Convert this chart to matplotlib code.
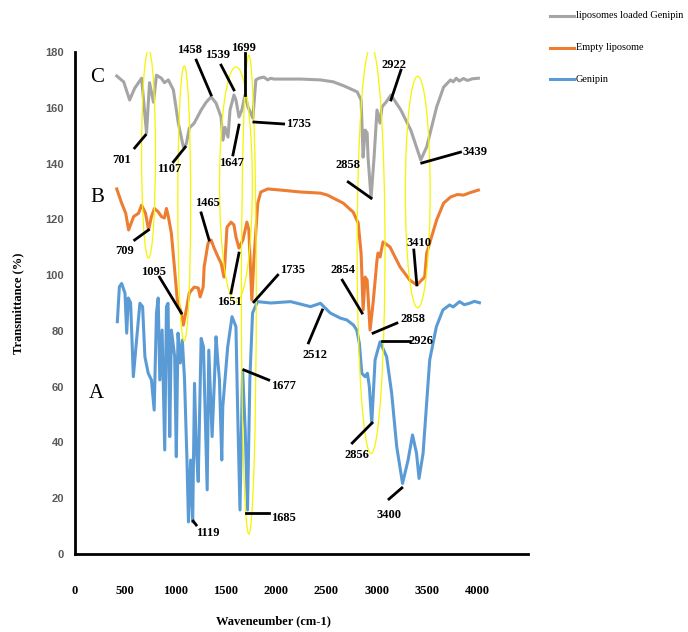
import matplotlib
matplotlib.use("Agg")
import matplotlib.pyplot as plt
from matplotlib.patches import Ellipse
from matplotlib.lines import Line2D

plt.rcParams['font.family'] = ['Liberation Serif', 'DejaVu Serif']

# FTIR spectra (wavenumber cm-1, transmittance %)
loaded_wn = [415, 484, 543, 593, 662, 711, 741, 780, 810, 859, 889, 928, 978, 1027, 1077,
             1106, 1136, 1185, 1254, 1304, 1353, 1402, 1452, 1471, 1491, 1521, 1541, 1580,
             1600, 1630, 1659, 1689, 1719, 1748, 1768, 1798, 1827, 1877, 1916, 1946, 1975,
             2242, 2440, 2568, 2677, 2805, 2844, 2864, 2884, 2904, 2913, 2943, 2973, 3002,
             3032, 3052, 3091, 3141, 3239, 3338, 3437, 3496, 3595, 3664, 3733, 3760, 3790,
             3820, 3862, 3900, 3950, 4010]
loaded_t = [171.4, 169.3, 162.8, 167, 170.6, 151, 169, 162, 171.7, 170.6, 169, 170, 166.4,
            154.5, 146, 147, 152.7, 154.5, 159.2, 162, 163.9, 161.7, 156.7, 148.4, 153, 149.5,
            159.2, 164.6, 162.8, 156.7, 159.2, 164.6, 160.3, 158, 156.3, 170, 170.6, 171, 170,
            170.6, 170.3, 170.3, 170, 169.3, 167.8, 165.7, 162.8, 142.3, 152, 151, 142.3,
            127.6, 142.3, 159.2, 154.5, 160.3, 162, 164.6, 159.2, 152, 141.3, 146, 160.3,
            167.4, 170, 169.3, 170.6, 169.6, 170.5, 169.8, 170.4, 170.6]

empty_wn = [415, 464, 504, 533, 583, 632, 662, 701, 731, 760, 790, 829, 859, 889, 909, 928,
            958, 988, 1017, 1057, 1077, 1106, 1136, 1185, 1225, 1244, 1274, 1284, 1323, 1353,
            1383, 1422, 1452, 1481, 1511, 1551, 1580, 1600, 1630, 1669, 1709, 1728, 1758,
            1778, 1817, 1847, 1916, 2044, 2242, 2440, 2509, 2667, 2765, 2815, 2844, 2864,
            2884, 2904, 2933, 2963, 3002, 3012, 3032, 3062, 3131, 3230, 3328, 3398, 3476,
            3496, 3595, 3664, 3733, 3800, 3862, 3930, 4010]
empty_t = [130.9, 125.8, 122.2, 116.2, 121, 122.2, 125.1, 122.2, 116.2, 121, 123.9, 122.6,
           121, 120.5, 123.9, 121, 115, 103, 91, 86.4, 82.1, 87.5, 93.6, 95.7, 95.4, 92.2,
           95.7, 103, 111.5, 112.6, 109.7, 106.5, 104.3, 99.3, 117.2, 119, 118, 113.7, 109.7,
           112.6, 119, 116.2, 91.1, 105.4, 125.8, 129.8, 130.9, 130.5, 129.8, 129.4, 128.7,
           125.8, 122.6, 118.7, 107.9, 87.5, 99.3, 98.2, 80.3, 90, 105.4, 107.9, 106.5, 111.9,
           110.1, 103, 98.2, 96.5, 99.3, 107.9, 119.8, 125.8, 128, 128.9, 128.7, 129.6, 130.5]

genipin_wn = [421, 441, 464, 497, 514, 530, 553, 580, 612, 645, 672, 695, 728, 760, 787, 810,
              827, 843, 866, 892, 909, 925, 942, 958, 975, 991, 1007, 1024, 1047, 1067, 1089,
              1113, 1128, 1150, 1170, 1188, 1205, 1225, 1254, 1277, 1314, 1330, 1363, 1386,
              1402, 1419, 1436, 1459, 1469, 1518, 1561, 1600, 1616, 1640, 1666, 1692, 1715,
              1738, 1765, 1814, 1946, 2143, 2341, 2440, 2538, 2637, 2703, 2768, 2801, 2827,
              2851, 2884, 2907, 2926, 2950, 2983, 3032, 3098, 3148, 3198, 3256, 3311, 3355,
              3395, 3420, 3460, 3526, 3592, 3657, 3723, 3760, 3822, 3870, 3921, 3970, 4020]
genipin_t = [83.3, 95.8, 97, 93.5, 79.2, 91.8, 90, 63.6, 76.7, 89.9, 88.7, 70.7, 64.8, 62.4,
             51.6, 86.4, 91.8, 62.4, 80.3, 37.3, 88.7, 89.9, 42.1, 80.3, 75.5, 70.7, 34.9,
             79.2, 68.5, 76.7, 62.4, 33.7, 11.5, 33.7, 11.5, 61.2, 38.5, 26, 77.3, 74.3, 23,
             73.1, 42.1, 62.4, 77.9, 69.6, 62.4, 33.7, 52.8, 74.3, 85.1, 81.5, 52.8, 15.8, 66,
             44.5, 15.8, 62.4, 86.4, 90.5, 90, 90.5, 88.7, 89.9, 86.4, 84.6, 83.9, 82.1, 80.3,
             75.5, 64.8, 63.6, 64.8, 60, 46.9, 69.6, 76.1, 70.7, 57.6, 38.5, 25.3, 33.7, 42.7,
             36.1, 27.1, 36.1, 69.6, 81.5, 87.5, 89.3, 88.6, 90.5, 89.4, 89.9, 90.6, 90.1]

series_names = ['liposomes loaded Genipin', 'Empty liposome', 'Genipin']
series_colors = ['#A5A5A5', '#ED7D31', '#5B9BD5']

# peak labels: text, text position, leader line start, leader line end
peaks = [
    ('701', 464, 141.3, 593, 145.6, 701, 150.2),
    ('1107', 938, 138.0, 978, 140.6, 1096, 145.9),
    ('1458', 1136, 180.7, 1205, 177.1, 1353, 164.6),
    ('1539', 1422, 178.9, 1452, 175.3, 1580, 166.4),
    ('1699', 1679, 181.4, 1689, 179.6, 1689, 164.6),
    ('1735', 2222, 154.2, 1778, 154.9, 2074, 154.2),
    ('1647', 1551, 140.2, 1570, 143.1, 1630, 153.8),
    ('709', 494, 108.6, 593, 112.6, 731, 116.2),
    ('1465', 1314, 125.8, 1254, 122.3, 1333, 112.6),
    ('1095', 780, 101.1, 840, 99.3, 1057, 86.4),
    ('1651', 1531, 90.4, 1551, 93.6, 1630, 107.9),
    ('1735', 2163, 101.8, 1778, 90.4, 2015, 100.0),
    ('2858', 2716, 139.5, 2716, 133.4, 2943, 127.6),
    ('2922', 3170, 175.3, 3240, 173.5, 3141, 162.8),
    ('3439', 3980, 144.1, 3832, 144.1, 3447, 140.2),
    ('3410', 3417, 111.5, 3368, 109.0, 3398, 96.5),
    ('2854', 2667, 101.8, 2657, 98.2, 2854, 86.4),
    ('2858', 3358, 84.3, 3200, 82.8, 2963, 79.2),
    ('2926', 3437, 76.4, 3052, 76.4, 3328, 76.4),
    ('2512', 2390, 71.4, 2321, 75.7, 2459, 87.5),
    ('1677', 2074, 60.2, 1679, 66.0, 1926, 62.4),
    ('2856', 2805, 35.5, 2756, 39.8, 2953, 47.0),
    ('3400', 3121, 14.0, 3121, 19.7, 3249, 23.7),
    ('1119', 1323, 7.5, 1175, 11.8, 1205, 10.4),
    ('1685', 2074, 12.9, 1699, 14.7, 1926, 14.7),
]

# highlighted regions (centre x, centre y, width, height)
regions = [(731, 143.4, 138, 74.6), (1086, 125.7, 128, 98.6), (1600, 132.5, 326, 84.3),
           (1728, 93, 148, 171.7), (2943, 109, 277, 146), (3407, 129.8, 247, 83)]

fig = plt.figure(figsize=(6.88, 6.32), dpi=100)
ax = fig.add_axes([0.109, 0.1234, 0.658, 0.7943])

ax.plot(genipin_wn, genipin_t, color=series_colors[2], lw=2.2, zorder=2)
ax.plot(empty_wn, empty_t, color=series_colors[1], lw=2.2, zorder=3)
ax.plot(loaded_wn, loaded_t, color=series_colors[0], lw=2.2, zorder=4)

for cx, cy, w, h in regions:
    ax.add_patch(Ellipse((cx, cy), w, h, fill=False, edgecolor='#F5F500', lw=0.9, zorder=5))

for lab, tx, ty, x0, y0, x1, y1 in peaks:
    ax.plot([x0, x1], [y0, y1], color='black', lw=2, zorder=6, clip_on=False)
    ax.text(tx, ty, lab, ha='center', va='center', fontsize=9, fontweight='bold', zorder=7)

for lab, ty in zip(['C', 'B', 'A'], [171.0, 128.0, 57.7]):
    ax.text(217, ty, lab, ha='center', va='center', fontsize=15)

ax.set_xlim(0, 4500)
ax.set_ylim(0, 180)
ax.set_xticks(range(0, 4001, 500))
ax.set_yticks(range(0, 181, 20))
ax.tick_params(length=0)
ax.tick_params(axis='x', pad=22, labelsize=9)
ax.tick_params(axis='y', pad=8, labelsize=8, labelcolor='#595959')
for t in ax.get_xticklabels():
    t.set_fontweight('bold')
for t in ax.get_yticklabels():
    t.set_fontweight('bold')
    t.set_family('Liberation Sans')
for s in ['top', 'right']:
    ax.spines[s].set_visible(False)
for s in ['left', 'bottom']:
    ax.spines[s].set_linewidth(2)
    ax.spines[s].set_color('black')

fig.text(273 / 688, 1 - 621 / 632, 'Waveneumber (cm-1)', ha='center', va='center',
         fontsize=9, fontweight='bold')
fig.text(18 / 688, 1 - 303 / 632, 'Transmittance (%)', ha='center', va='center',
         rotation=90, fontsize=9, fontweight='bold')

# legend drawn by hand at the top right
for i, (name, col) in enumerate(zip(series_names, series_colors)):
    yy = 1 - (16 + 31.5 * i) / 632
    fig.add_artist(Line2D([550 / 688, 574 / 688], [yy, yy], color=col, lw=2.2))
    fig.text(576 / 688, yy, name, ha='left', va='center', fontsize=7.4)

fig.savefig('out.png', dpi=100)
